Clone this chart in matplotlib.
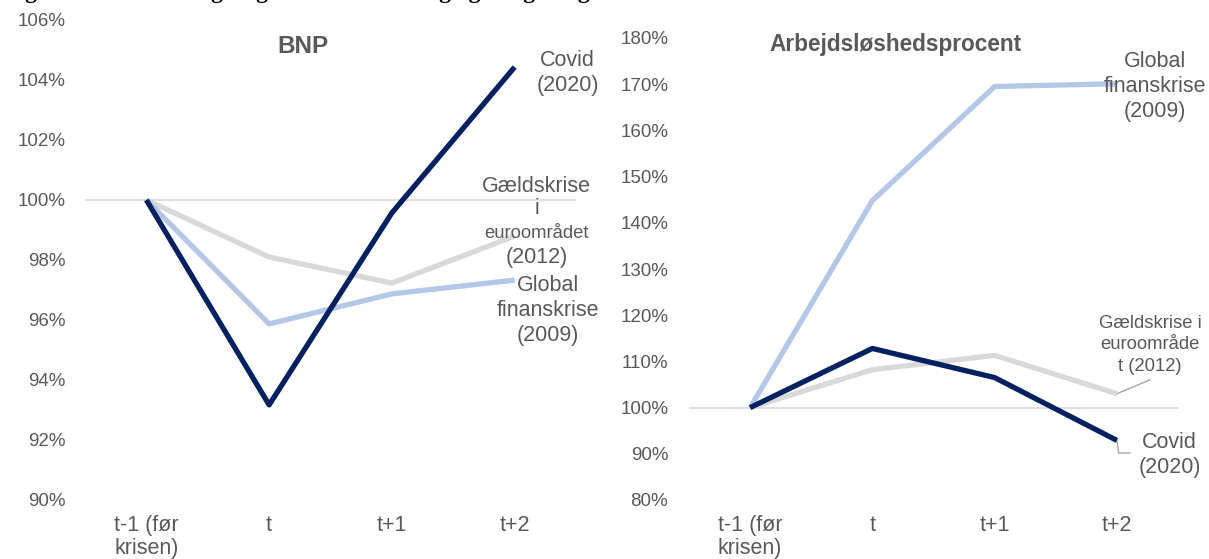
import matplotlib
matplotlib.use("Agg")
import matplotlib.pyplot as plt

plt.rcParams['font.family'] = ['Liberation Sans', 'DejaVu Sans']

categories = ["t-1 (før\nkrisen)", "t", "t+1", "t+2"]

# BNP index (t-1 = 100)
bnp_covid = [100.0, 93.17, 99.57, 104.43]
bnp_gaeld = [100.0, 98.10, 97.23, 98.80]
bnp_global = [100.0, 95.87, 96.87, 97.33]

# Unemployment rate index (t-1 = 100)
ledig_global = [100.0, 144.8, 169.5, 170.1]
ledig_gaeld = [100.0, 108.2, 111.3, 103.0]
ledig_covid = [100.0, 112.8, 106.5, 92.9]

bnp_ticks = [90, 92, 94, 96, 98, 100, 102, 104, 106]
ledig_ticks = [80, 90, 100, 110, 120, 130, 140, 150, 160, 170, 180]

NAVY = "#002060"
LIGHTBLUE = "#b4c7e7"
GREY = "#d9d9d9"
TXT = "#595959"
LEADER = "#a6a6a6"
LW = 3.8
FS = 15.5

fig = plt.figure(figsize=(12.09, 5.59), dpi=100)

fig.text(0.003, 1 + 2 / 559,
         "Figur 3.1: Sammenligning af BNP-udvikling og ledighed gennem tre kriser",
         family="Liberation Serif", fontweight="bold", fontsize=17,
         va="baseline", ha="left", color="black")

ax1 = fig.add_axes([85 / 1209, 59 / 559, 491 / 1209, 480 / 559])
ax2 = fig.add_axes([689 / 1209, 59 / 559, 489 / 1209, 462 / 559])

x = range(len(categories))


def style(ax, ticks, ypad):
    ax.set_xlim(-0.5, len(categories) - 0.5)
    ax.set_ylim(ticks[0], ticks[-1])
    ax.set_yticks(ticks)
    ax.set_yticklabels([f"{t}%" for t in ticks])
    ax.set_xticks(list(x))
    ax.set_xticklabels(categories, fontsize=FS, linespacing=1.15)
    for s in ax.spines.values():
        s.set_visible(False)
    ax.tick_params(length=0, colors=TXT)
    ax.tick_params(axis="y", pad=ypad, labelsize=13.5)
    ax.tick_params(axis="x", pad=10.5)
    ax.axhline(100, color=GREY, lw=1.2, zorder=1)
    ax.patch.set_alpha(0)


style(ax1, bnp_ticks, 13.7)
style(ax2, ledig_ticks, 15)

ax1.text(0.444, 0.944, "BNP", transform=ax1.transAxes, ha="center",
         va="center", fontsize=17.5, fontweight="bold", color=TXT)
ax2.text(0.423, 0.987, "Arbejdsløshedsprocent", transform=ax2.transAxes,
         ha="center", va="center", fontsize=16.3, fontweight="bold", color=TXT)

for ax, g, b, c in ((ax1, bnp_gaeld, bnp_global, bnp_covid),
                    (ax2, ledig_gaeld, ledig_global, ledig_covid)):
    ax.plot(x, g, color=GREY, lw=LW, zorder=2, solid_capstyle="butt")
    ax.plot(x, b, color=LIGHTBLUE, lw=LW, zorder=3, solid_capstyle="butt")
    ax.plot(x, c, color=NAVY, lw=LW, zorder=4, solid_capstyle="butt")

# Series labels, left panel
ax1.text(3.43, 104.22, "Covid\n(2020)", ha="center", va="center",
         fontsize=FS, color=TXT, linespacing=1.25, clip_on=False)
ax1.text(3.18, 100.45, "Gældskrise", ha="center", va="center", fontsize=FS, color=TXT)
ax1.text(3.18, 99.7, "i", ha="center", va="center", fontsize=FS, color=TXT)
ax1.text(3.18, 98.9, "euroområdet", ha="center", va="center", fontsize=13.3, color=TXT)
ax1.text(3.18, 98.1, "(2012)", ha="center", va="center", fontsize=FS, color=TXT)
ax1.text(3.27, 96.33, "Global\nfinanskrise\n(2009)", ha="center", va="center",
         fontsize=FS, color=TXT, linespacing=1.25, clip_on=False)

# Series labels, right panel
ax2.text(3.31, 169.6, "Global\nfinanskrise\n(2009)", ha="center",
         va="center", fontsize=FS, color=TXT, linespacing=1.25, clip_on=False)
ax2.text(3.27, 113.55, "Gældskrise i\neuroområde\nt (2012)", ha="center",
         va="center", fontsize=13.3, color=TXT, linespacing=1.35, clip_on=False)
ax2.plot([3.0, 3.27], [ledig_gaeld[3], 106.0], color=LEADER, lw=1.0,
         zorder=1, clip_on=False)
ax2.text(3.43, 89.75, "Covid\n(2020)", ha="center", va="center",
         fontsize=FS, color=TXT, linespacing=1.25, clip_on=False)
ax2.plot([3.0, 3.015, 3.106], [ledig_covid[3], 90.17, 90.17],
         color=LEADER, lw=1.0, zorder=1, clip_on=False)

fig.savefig("out.png", dpi=100)
